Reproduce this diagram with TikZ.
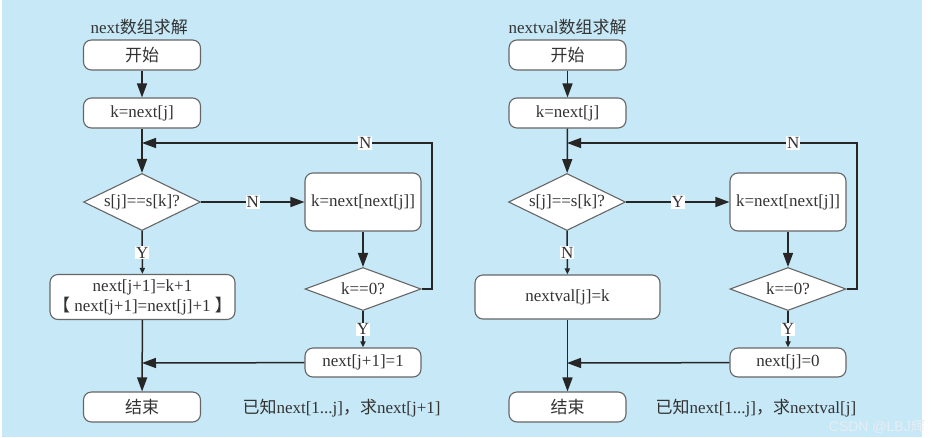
\documentclass[tikz,border=0pt]{standalone}
\usepackage{fontspec}
\setmainfont{Liberation Serif}
\newfontfamily\cjk{Noto Sans CJK SC}
\newfontfamily\wmfont{Liberation Sans}
\usetikzlibrary{shapes.geometric,arrows.meta,positioning}
\definecolor{bgblue}{HTML}{C6E8F7}
\definecolor{boxline}{HTML}{666666}
\definecolor{inktext}{HTML}{333333}
\definecolor{markgray}{HTML}{E6EEF2}

\tikzset{
  box/.style={draw=boxline, fill=white, line width=1.1pt, rounded corners=8pt,
    minimum width=117pt, minimum height=30pt, inner sep=0pt, text=inktext, align=center},
  test/.style={draw=boxline, fill=white, line width=1.1pt, diamond, aspect=2,
    inner sep=0pt, minimum width=117pt, minimum height=57pt, text=inktext},
  flow/.style={line width=1.5pt, draw=black!85, -{Triangle[length=14pt,width=10pt]}},
  flowsmall/.style={line width=1.5pt, draw=black!85, -{Triangle[length=6pt,width=5pt]}},
  lab/.style={fill=white, inner sep=1pt, text=inktext},
}

\begin{document}
\begin{tikzpicture}[x=1pt, y=-1pt, every node/.style={font=\fontsize{17}{20}\selectfont}]
    \useasboundingbox (0,0) rectangle (931,437);
    \fill[white] (0,0) rectangle (931,437); % page
    \fill[bgblue] (2,0) rectangle (922,437); % background

    % next array
    \node[text=inktext, anchor=west] (title1) at (87,27) {next{\cjk 数组求解}};
    \node[box] (start1) at (142,55) {{\cjk 开始}};
    \node[box] (knext1) at (142,113) {k=next[j]};
    \node[test] (cmp1) at (142,202) {s[j]==s[k]?};
    \node[box, minimum width=185pt, minimum height=45pt] (upd1) at (142.5,297) {next[j+1]=k+1\\{\cjk 【} next[j+1]=next[j]+1 {\cjk 】}};
    \node[box] (end1) at (142,407) {{\cjk 结束}};
    \node[box, minimum width=116pt, minimum height=58pt] (jump1) at (363,202) {k=next[next[j]]};
    \node[test, minimum width=116pt, minimum height=43pt] (zero1) at (363,289) {k==0?};
    \node[box, minimum width=116pt, minimum height=29pt] (set1) at (363,362.5) {next[j+1]=1};
    \node[text=inktext, anchor=west] (note1) at (239,408) {{\cjk 已知}next[1...j]{\cjk ，求}next[j+1]};
    \coordinate (join1) at (142,143);
    \coordinate (turn1) at (432,143);
    \coordinate (merge1) at (142,363);

    \draw[flow] (start1) -- (knext1);
    \draw[flow] (knext1) -- (cmp1);
    \draw[flow] (cmp1) -- node[lab]{N} (jump1);
    \draw[flowsmall] (cmp1) -- node[lab]{Y} (upd1);
    \draw[flow] (jump1) -- (zero1);
    \draw[flow] (zero1.east) -| (turn1) -- node[lab, pos=0.23]{N} (join1);
    \draw[flowsmall] (zero1) -- node[lab]{Y} (set1);
    \draw[flow] (set1) -- (merge1);
    \draw[flow] (upd1) -- (end1);

    % nextval array
    \node[text=inktext, anchor=west] (title2) at (505,27) {nextval{\cjk 数组求解}};
    \node[box] (start2) at (567.5,55) {{\cjk 开始}};
    \node[box] (knext2) at (567.5,113) {k=next[j]};
    \node[test] (cmp2) at (567,202) {s[j]==s[k]?};
    \node[box, minimum width=185pt, minimum height=44pt] (val2) at (567.5,297) {nextval[j]=k};
    \node[box] (end2) at (567.5,407) {{\cjk 结束}};
    \node[box, minimum width=116pt, minimum height=58pt] (jump2) at (788,202) {k=next[next[j]]};
    \node[test, minimum width=116pt, minimum height=43pt] (zero2) at (788,289) {k==0?};
    \node[box, minimum width=116pt, minimum height=29pt] (set2) at (788,362.5) {next[j]=0};
    \node[text=inktext, anchor=west] (note2) at (652,408) {{\cjk 已知}next[1...j]{\cjk ，求}nextval[j]};
    \coordinate (join2) at (567,143);
    \coordinate (turn2) at (857,143);
    \coordinate (merge2) at (567,363);

    \draw[flow] (start2) -- (knext2);
    \draw[flow] (knext2) -- (cmp2);
    \draw[flow] (cmp2) -- node[lab]{Y} (jump2);
    \draw[flowsmall] (cmp2) -- node[lab]{N} (val2);
    \draw[flow] (jump2) -- (zero2);
    \draw[flow] (zero2.east) -| (turn2) -- node[lab, pos=0.22]{N} (join2);
    \draw[flowsmall] (zero2) -- node[lab]{Y} (set2);
    \draw[flow] (set2) -- (merge2);
    \draw[flow] (val2) -- (end2);

    % watermark
    \node[text=markgray, anchor=east, inner sep=0pt, font=\fontsize{14}{16}\selectfont] (mark) at (925,427) {\wmfont CSDN @LBJ{\cjk 辉}};
\end{tikzpicture}
\end{document}
